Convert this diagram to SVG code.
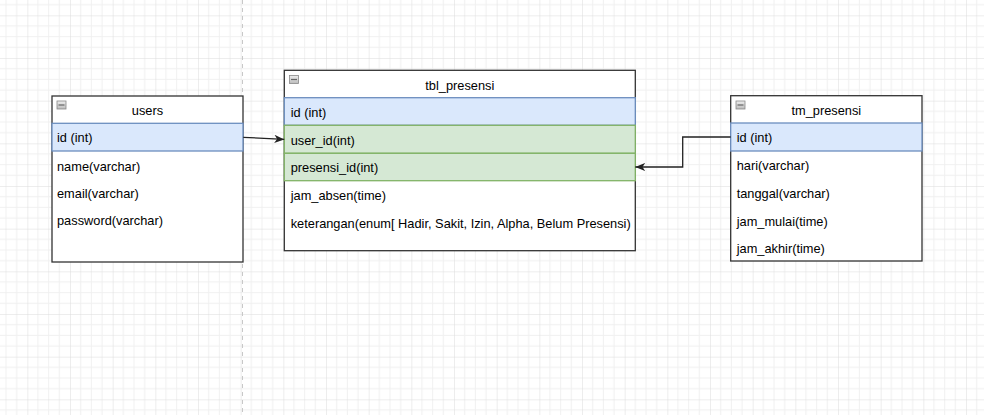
<svg xmlns="http://www.w3.org/2000/svg" width="984" height="415" viewBox="0 0 984 415">
<style>
  text { font-family: "Liberation Sans", Arial, sans-serif; font-size: 12.8px; fill: #000; }
  .title { text-anchor: middle; }
  .box { fill: #fff; stroke: #333; stroke-width: 1.3; }
  .hdr { fill: #fff; stroke: #333; stroke-width: 1.3; }
  .pk { fill: #dae8fc; stroke: #6c8ebf; stroke-width: 1.3; }
  .fk { fill: #d5e8d4; stroke: #82b366; stroke-width: 1.3; }
  .edge { fill: none; stroke: #222; stroke-width: 1.3; }
  .icon { fill: url(#ig); stroke: #888; stroke-width: 0.8; }
  .dash { stroke: #666; stroke-width: 1.2; }
</style>
<defs>
  <pattern id="grid" patternUnits="userSpaceOnUse" x="27.333" y="15.333" width="42.667" height="42.667">
    <path d="M10.667,0 V42.667 M21.333,0 V42.667 M32,0 V42.667 M0,10.667 H42.667 M0,21.333 H42.667 M0,32 H42.667" stroke="#f0f0f0" stroke-width="1" fill="none"/>
    <path d="M0,0 V42.667 M0,0 H42.667" stroke="#dcdcdc" stroke-width="1" fill="none"/>
  </pattern>
  <linearGradient id="ig" x1="0" y1="0" x2="0" y2="1">
    <stop offset="0" stop-color="#eeeeee"/>
    <stop offset="1" stop-color="#bbbbbb"/>
  </linearGradient>
  <marker id="arrow" viewBox="0 0 10 10" refX="10" refY="5" markerWidth="10" markerHeight="10" markerUnits="userSpaceOnUse" orient="auto">
    <path d="M0,0.8 L10,5 L0,9.2 L2.8,5 z" fill="#222"/>
  </marker>
</defs>
<rect width="984" height="415" fill="#fff"/>
<rect width="984" height="415" fill="url(#grid)"/>
<line x1="242.5" y1="0" x2="242.5" y2="415" stroke="#c8c8c8" stroke-width="1" stroke-dasharray="4,4"/>

<g id="users">
  <rect class="box" x="52" y="96" width="191" height="166"/>
  <rect class="pk" x="52" y="123.3" width="191" height="27.7"/>
  <rect class="icon" x="57" y="101" width="9" height="8"/>
  <line class="dash" x1="58.5" y1="105" x2="64.5" y2="105"/>
  <text class="title" x="147.5" y="114.5">users</text>
  <text x="57" y="142">id (int)</text>
  <text x="57" y="170.5">name(varchar)</text>
  <text x="57" y="197.8">email(varchar)</text>
  <text x="57" y="225">password(varchar)</text>
</g>

<g id="tbl_presensi">
  <rect class="box" x="284.3" y="70.3" width="351" height="180.4"/>
  <rect class="pk" x="284.3" y="97.7" width="351" height="27.6"/>
  <rect class="fk" x="284.3" y="125.3" width="351" height="28"/>
  <rect class="fk" x="284.3" y="153.3" width="351" height="27.4"/>
  <rect class="icon" x="289.5" y="75.5" width="9" height="8"/>
  <line class="dash" x1="291" y1="79.5" x2="297" y2="79.5"/>
  <text class="title" x="459.8" y="89.5">tbl_presensi</text>
  <text x="290.7" y="116.8">id (int)</text>
  <text x="290.7" y="144.5">user_id(int)</text>
  <text x="290.7" y="172">presensi_id(int)</text>
  <text x="290.7" y="199.5">jam_absen(time)</text>
  <text x="290.7" y="227.8">keterangan(enum[ Hadir, Sakit, Izin, Alpha, Belum Presensi)</text>
</g>

<g id="tm_presensi">
  <rect class="box" x="730.7" y="95.7" width="191.3" height="165.3"/>
  <rect class="pk" x="730.7" y="123" width="191.3" height="28"/>
  <rect class="icon" x="736" y="101" width="9" height="8"/>
  <line class="dash" x1="737.5" y1="105" x2="743.5" y2="105"/>
  <text class="title" x="826.3" y="114.5">tm_presensi</text>
  <text x="736.7" y="141.8">id (int)</text>
  <text x="736.7" y="170">hari(varchar)</text>
  <text x="736.7" y="197.8">tanggal(varchar)</text>
  <text x="736.7" y="225.5">jam_mulai(time)</text>
  <text x="736.7" y="252.8">jam_akhir(time)</text>
</g>

<g id="connectors">
  <path class="edge" d="M243.3,137.3 L284.3,139.4" marker-end="url(#arrow)"/>
  <path class="edge" d="M730.7,137 L682.7,137 L682.7,167 L635.3,167" marker-end="url(#arrow)"/>
</g>
</svg>
